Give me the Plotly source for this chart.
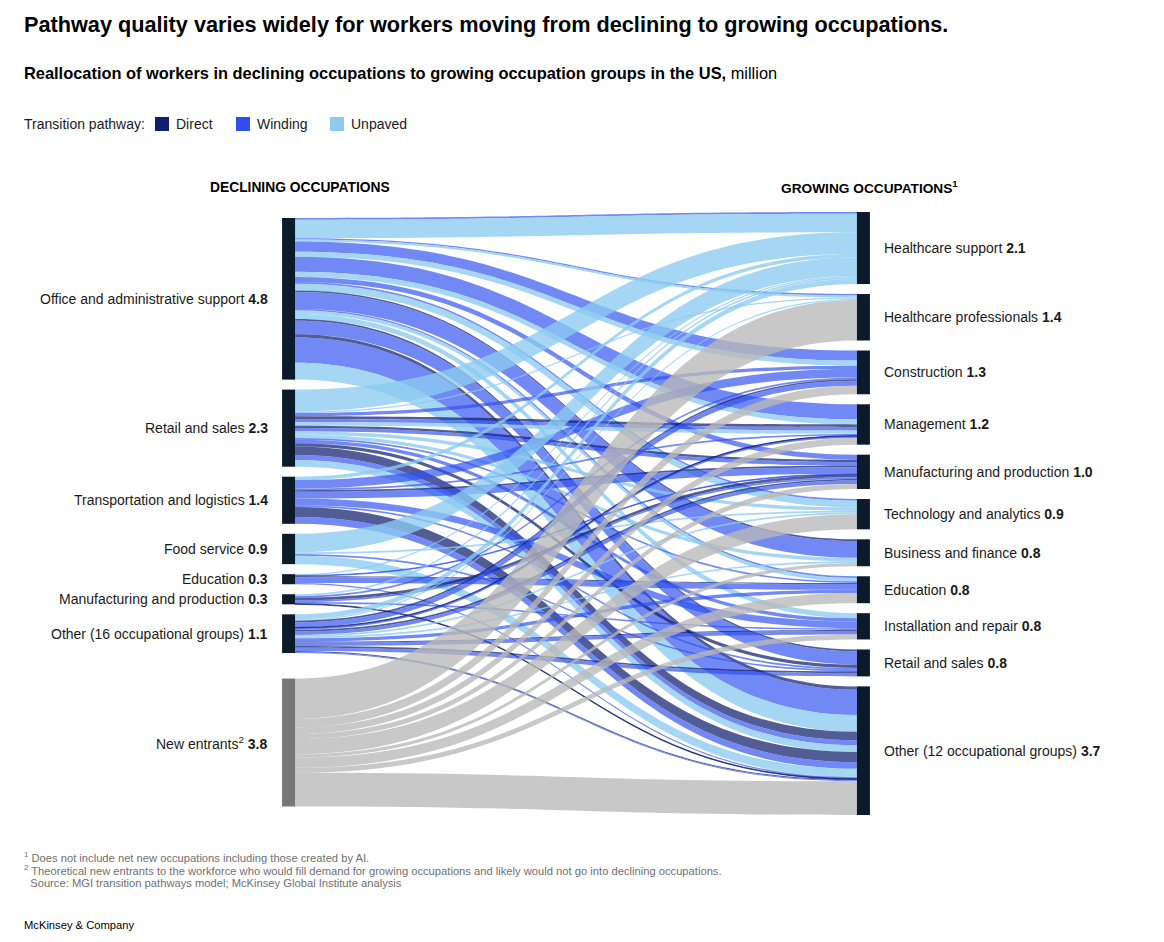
"""Sankey: reallocation of US workers from declining to growing occupations."""

import plotly.graph_objects as go

W, H = 1164, 942

# Node labels and the totals printed next to them (million workers)
DECLINING = [
    "Office and administrative support",
    "Retail and sales",
    "Transportation and logistics",
    "Food service",
    "Education",
    "Manufacturing and production",
    "Other (16 occupational groups)",
    "New entrants<sup>2</sup>",
]
DECLINING_TOTALS = ["4.8", "2.3", "1.4", "0.9", "0.3", "0.3", "1.1", "3.8"]

GROWING = [
    "Healthcare support",
    "Healthcare professionals",
    "Construction",
    "Management",
    "Manufacturing and production",
    "Technology and analytics",
    "Business and finance",
    "Education",
    "Installation and repair",
    "Retail and sales",
    "Other (12 occupational groups)",
]
GROWING_TOTALS = ["2.1", "1.4", "1.3", "1.2", "1.0", "0.9", "0.8", "0.8", "0.8", "0.8", "3.7"]

PATHWAYS = ["Direct", "Winding", "Unpaved"]

# (declining index, growing index, pathway, million workers)
FLOWS = [
    # Office and administrative support
    (0, 0, "Winding", 0.05), (0, 0, "Unpaved", 0.55),
    (0, 1, "Winding", 0.04), (0, 1, "Unpaved", 0.06),
    (0, 2, "Winding", 0.30), (0, 2, "Unpaved", 0.15),
    (0, 3, "Winding", 0.45), (0, 3, "Unpaved", 0.15),
    (0, 4, "Winding", 0.15),
    (0, 5, "Winding", 0.05), (0, 5, "Unpaved", 0.20),
    (0, 6, "Direct", 0.05), (0, 6, "Winding", 0.50),
    (0, 7, "Winding", 0.05), (0, 7, "Unpaved", 0.10),
    (0, 8, "Unpaved", 0.15),
    (0, 9, "Direct", 0.05), (0, 9, "Winding", 0.40),
    (0, 10, "Direct", 0.10), (0, 10, "Winding", 0.75), (0, 10, "Unpaved", 0.50),
    # Retail and sales
    (1, 0, "Unpaved", 0.65),
    (1, 1, "Unpaved", 0.04),
    (1, 2, "Winding", 0.10),
    (1, 3, "Direct", 0.08), (1, 3, "Winding", 0.10), (1, 3, "Unpaved", 0.10),
    (1, 4, "Direct", 0.07), (1, 4, "Winding", 0.10),
    (1, 5, "Unpaved", 0.10),
    (1, 6, "Unpaved", 0.10),
    (1, 7, "Winding", 0.05),
    (1, 8, "Winding", 0.10),
    (1, 9, "Direct", 0.10),
    (1, 10, "Direct", 0.25), (1, 10, "Winding", 0.15), (1, 10, "Unpaved", 0.20),
    # Transportation and logistics
    (2, 0, "Unpaved", 0.10),
    (2, 2, "Winding", 0.25),
    (2, 3, "Winding", 0.05),
    (2, 4, "Direct", 0.05), (2, 4, "Winding", 0.20),
    (2, 8, "Winding", 0.20),
    (2, 9, "Winding", 0.05),
    (2, 10, "Direct", 0.30), (2, 10, "Winding", 0.20),
    # Food service
    (3, 0, "Unpaved", 0.55),
    (3, 5, "Unpaved", 0.05),
    (3, 9, "Winding", 0.05),
    (3, 10, "Unpaved", 0.25),
    # Education
    (4, 0, "Unpaved", 0.04),
    (4, 4, "Winding", 0.02),
    (4, 7, "Direct", 0.03), (4, 7, "Winding", 0.17),
    (4, 10, "Winding", 0.04),
    # Manufacturing and production
    (5, 0, "Unpaved", 0.05),
    (5, 2, "Winding", 0.05),
    (5, 4, "Direct", 0.08), (5, 4, "Winding", 0.05),
    (5, 8, "Winding", 0.05),
    (5, 10, "Direct", 0.02),
    # Other (16 occupational groups)
    (6, 0, "Unpaved", 0.15),
    (6, 1, "Unpaved", 0.04),
    (6, 2, "Direct", 0.05), (6, 2, "Winding", 0.15),
    (6, 3, "Direct", 0.02), (6, 3, "Winding", 0.05),
    (6, 4, "Direct", 0.05), (6, 4, "Winding", 0.10),
    (6, 5, "Unpaved", 0.05),
    (6, 6, "Unpaved", 0.05),
    (6, 7, "Winding", 0.10),
    (6, 8, "Direct", 0.03), (6, 8, "Winding", 0.10),
    (6, 9, "Direct", 0.05), (6, 9, "Winding", 0.10),
    (6, 10, "Direct", 0.03), (6, 10, "Winding", 0.03),
    # New entrants
    (7, 1, "New entrants", 1.20),
    (7, 2, "New entrants", 0.25),
    (7, 3, "New entrants", 0.20),
    (7, 4, "New entrants", 0.15),
    (7, 5, "New entrants", 0.45),
    (7, 6, "New entrants", 0.10),
    (7, 7, "New entrants", 0.30),
    (7, 8, "New entrants", 0.15),
    (7, 10, "New entrants", 1.00),
]

# Colours
NODE_DARK = "#0c1b2a"
NODE_GRAY = "#777777"
LEGEND_COLORS = {"Direct": "#0f1f6e", "Winding": "#2f4ff0", "Unpaved": "#8ccaf0"}
LINK_COLORS = {
    "Direct": "rgba(15, 31, 110, 0.72)",
    "Winding": "rgba(47, 79, 240, 0.68)",
    "Unpaved": "rgba(140, 202, 240, 0.78)",
    "New entrants": "rgba(185, 185, 185, 0.78)",
}
FONT = "Liberation Sans, Arial, sans-serif"

# Geometry in screen pixels (the page body adds an 8px margin)
BODY_MARGIN = 8
SK_TOP, SK_BOTTOM = 212, 815
SK_LEFT, SK_RIGHT = 288, 864
PAD_RIGHT = 10
PAD_LEFT = 10
LEFT_OFFSET = 6
NEW_ENTRANT_GAP = 25.5


def px(x):
    return (x - BODY_MARGIN) / W


def py(y):
    return 1 - (y - BODY_MARGIN) / H


n_left = len(DECLINING)
left_sums = [0.0] * n_left
right_sums = [0.0] * len(GROWING)
for s, t, _, v in FLOWS:
    left_sums[s] += v
    right_sums[t] += v

total = sum(right_sums)
sk_h = SK_BOTTOM - SK_TOP
ky = (sk_h - PAD_RIGHT * (len(GROWING) - 1)) / total  # px per million

# Node centres (px from the top of the sankey domain)
left_centres = []
cursor = LEFT_OFFSET
for i, v in enumerate(left_sums):
    if i == n_left - 1:
        cursor += NEW_ENTRANT_GAP - PAD_LEFT
    left_centres.append(cursor + v * ky / 2)
    cursor += v * ky + PAD_LEFT

right_centres = []
cursor = 0
for v in right_sums:
    right_centres.append(cursor + v * ky / 2)
    cursor += v * ky + PAD_RIGHT

node_x = [0.001] * n_left + [0.999] * len(GROWING)
node_y = [c / sk_h for c in left_centres + right_centres]
node_names = [n.replace("<sup>2</sup>", "") for n in DECLINING] + GROWING
node_colors = [NODE_DARK] * (n_left - 1) + [NODE_GRAY] + [NODE_DARK] * len(GROWING)

fig = go.Figure(
    go.Sankey(
        arrangement="fixed",
        domain=dict(x=[px(SK_LEFT), px(SK_RIGHT)], y=[py(SK_BOTTOM), py(SK_TOP)]),
        node=dict(
            label=[""] * len(node_names),
            customdata=node_names,
            x=node_x,
            y=node_y,
            pad=PAD_RIGHT,
            thickness=13,
            color=node_colors,
            line=dict(width=0),
            hovertemplate="%{customdata}: %{value:.1f} million<extra></extra>",
        ),
        link=dict(
            source=[s for s, _, _, _ in FLOWS],
            target=[n_left + t for _, t, _, _ in FLOWS],
            value=[v for _, _, _, v in FLOWS],
            color=[LINK_COLORS[p] for _, _, p, _ in FLOWS],
            customdata=[f"{node_names[s]} → {GROWING[t]}<br>{p}" for s, t, p, _ in FLOWS],
            hovertemplate="%{customdata}: %{value:.2f} million<extra></extra>",
        ),
    )
)

annotations = []


def add_text(x, y, text, size=14, anchor="left", color="#1a1a1a"):
    annotations.append(
        dict(
            x=px(x), y=py(y), xref="paper", yref="paper",
            text=text, showarrow=False, xanchor=anchor, yanchor="middle",
            font=dict(family=FONT, size=size, color=color),
        )
    )


# Node labels
for name, value, c in zip(DECLINING, DECLINING_TOTALS, left_centres):
    add_text(SK_LEFT - 18, SK_TOP + c, f"{name} <b>{value}</b>", anchor="right")
for name, value, c in zip(GROWING, GROWING_TOTALS, right_centres):
    add_text(SK_RIGHT + 18, SK_TOP + c, f"{name} <b>{value}</b>")

# Headings
add_text(22, 25, "<b>Pathway quality varies widely for workers moving from declining to growing occupations.</b>",
         size=21.7, color="#000000")
add_text(22, 73, "<b>Reallocation of workers in declining occupations to growing occupation groups in the US,</b> million",
         size=16.4, color="#000000")
add_text(300, 187, "<b>DECLINING OCCUPATIONS</b>", size=13.8, anchor="center", color="#000000")
add_text(779, 187, "<b>GROWING OCCUPATIONS<sup>1</sup></b>", size=13.7, color="#000000")

# Legend
shapes = []
add_text(22, 124, "Transition pathway:", size=14)
legend_x = [155, 236, 330]
for x0, name in zip(legend_x, PATHWAYS):
    shapes.append(
        dict(type="rect", xref="paper", yref="paper",
             x0=px(x0), x1=px(x0 + 14), y0=py(131), y1=py(117),
             fillcolor=LEGEND_COLORS[name], line=dict(width=0))
    )
    add_text(x0 + 19, 124, name, size=14)

# Footnotes
foot = dict(size=11.2, color="#707070")
add_text(22, 857, "<sup>1</sup> Does not include net new occupations including those created by AI.", **foot)
add_text(22, 870, "<sup>2</sup> Theoretical new entrants to the workforce who would fill demand for growing occupations "
         "and likely would not go into declining occupations.", **foot)
add_text(22, 883, "  Source: MGI transition pathways model; McKinsey Global Institute analysis", **foot)
add_text(22, 925, "McKinsey &amp; Company", size=11.2, color="#000000")

fig.update_layout(
    width=W,
    height=H,
    margin=dict(l=0, r=0, t=0, b=0),
    paper_bgcolor="white",
    plot_bgcolor="white",
    font=dict(family=FONT),
    annotations=annotations,
    shapes=shapes,
)

fig.write_html("out.html")
